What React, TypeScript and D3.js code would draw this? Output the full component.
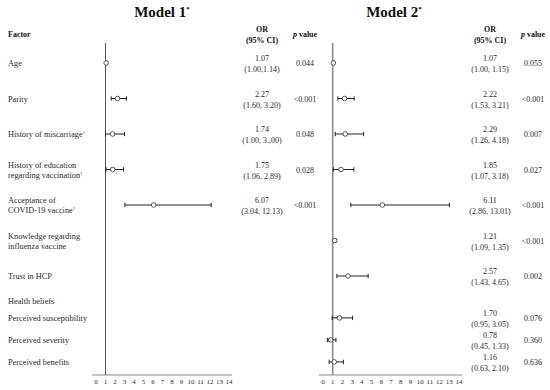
import React from "react";
import * as d3 from "d3";

// ---------- data ----------
const factorLabels: string[][] = [
  ["Age"],
  ["Parity"],
  ["History of miscarriage†"],
  ["History of education", "regarding vaccination†"],
  ["Acceptance of", "COVID-19 vaccine†"],
  ["Knowledge regarding", "influenza vaccine"],
  ["Trust in HCP"],
  ["Health beliefs"],
  ["Perceived susceptibility"],
  ["Perceived severity"],
  ["Perceived benefits"],
];

const m1OR: (number | null)[] = [1.07, 2.27, 1.74, 1.75, 6.07, null, null, null, null, null, null];
const m1Lo: (number | null)[] = [1.0, 1.6, 1.0, 1.06, 3.04, null, null, null, null, null, null];
const m1Hi: (number | null)[] = [1.14, 3.2, 3.0, 2.89, 12.13, null, null, null, null, null, null];
const m1ORText: string[] = ["1.07", "2.27", "1.74", "1.75", "6.07", "", "", "", "", "", ""];
const m1CIText: string[] = ["(1.00,1.14)", "(1.60, 3.20)", "(1.00, 3.,00)", "(1.06, 2.89)", "(3.04, 12.13)", "", "", "", "", "", ""];
const m1P: string[] = ["0.044", "<0.001", "0.048", "0.028", "<0.001", "", "", "", "", "", ""];

const m2OR: (number | null)[] = [1.07, 2.22, 2.29, 1.85, 6.11, 1.21, 2.57, null, 1.7, 0.78, 1.16];
const m2Lo: (number | null)[] = [1.0, 1.53, 1.26, 1.07, 2.86, 1.09, 1.43, null, 0.95, 0.45, 0.63];
const m2Hi: (number | null)[] = [1.15, 3.21, 4.18, 3.18, 13.01, 1.35, 4.65, null, 3.05, 1.33, 2.1];
const m2ORText: string[] = ["1.07", "2.22", "2.29", "1.85", "6.11", "1.21", "2.57", "", "1.70", "0.78", "1.16"];
const m2CIText: string[] = ["(1.00, 1.15)", "(1.53, 3.21)", "(1.26, 4.18)", "(1.07, 3.18)", "(2.86, 13.01)", "(1.09, 1.35)", "(1.43, 4.65)", "", "(0.95, 3.05)", "(0.45, 1.33)", "(0.63, 2.10)"];
const m2P: string[] = ["0.055", "<0.001", "0.007", "0.027", "<0.001", "<0.001", "0.002", "", "0.076", "0.360", "0.636"];

const axisTicks: number[] = d3.range(0, 15);

// ---------- layout ----------
const W = 550;
const H = 390;
const FONT = "'Liberation Serif', 'Times New Roman', serif";
const rowSlots = [0, 1, 2, 3, 4, 5, 6, 6.7, 7.18, 7.8, 8.42];
const yRow = d3.scaleLinear().domain([0, 1]).range([63, 98.5]);
const axisY = 375;
const TXT = "#2a2a2a";

const x1 = d3.scaleLinear().domain([0, 14]).range([96, 229]);
const x2 = d3.scaleLinear().domain([0, 14]).range([323, 459]);

type Panel = {
  x: d3.ScaleLinear<number, number>;
  or: (number | null)[];
  lo: (number | null)[];
  hi: (number | null)[];
  orText: string[];
  ciText: string[];
  p: string[];
  orCol: number;
  pCol: number;
  refColor: string;
  refWidth: number;
  title: string;
  titleX: number;
};

const panels: Panel[] = [
  { x: x1, or: m1OR, lo: m1Lo, hi: m1Hi, orText: m1ORText, ciText: m1CIText, p: m1P, orCol: 262, pCol: 305, refColor: "#555", refWidth: 1, title: "Model 1", titleX: 162 },
  { x: x2, or: m2OR, lo: m2Lo, hi: m2Hi, orText: m2ORText, ciText: m2CIText, p: m2P, orCol: 490, pCol: 533, refColor: "#8a8a8a", refWidth: 1.6, title: "Model 2", titleX: 394 },
];

function Label({ s }: { s: string }) {
  if (s.endsWith("†")) {
    return (
      <>
        {s.slice(0, -1)}
        <tspan fontSize={5} dy={-3}>†</tspan>
      </>
    );
  }
  return <>{s}</>;
}

function PanelView({ pn }: { pn: Panel }) {
  const [r0, r1] = pn.x.range();
  return (
    <g>
      <text x={pn.titleX} y={17} textAnchor="middle" fontSize={15} fontWeight="bold" fontFamily={FONT} fill="#111">
        {pn.title}
        <tspan fontSize={7} dy={-6}>*</tspan>
      </text>
      <text x={pn.orCol} y={32} textAnchor="middle" fontSize={8} fontWeight="bold" fontFamily={FONT} fill="#111">OR</text>
      <text x={pn.orCol} y={43} textAnchor="middle" fontSize={8} fontWeight="bold" fontFamily={FONT} fill="#111">(95% CI)</text>
      <text x={pn.pCol} y={37} textAnchor="middle" fontSize={8} fontWeight="bold" fontFamily={FONT} fill="#111">
        <tspan fontStyle="italic">p</tspan> value
      </text>
      {/* axis */}
      <line x1={r0 - 4} x2={r1 + 3} y1={axisY} y2={axisY} stroke="#888" strokeWidth={1} />
      {axisTicks.map((t) => (
        <text key={t} x={pn.x(t)} y={axisY + 9} textAnchor="middle" fontSize={7} fontFamily={FONT} fill={TXT}>
          {t}
        </text>
      ))}
      {/* reference line */}
      <line x1={pn.x(1)} x2={pn.x(1)} y1={43} y2={axisY} stroke={pn.refColor} strokeWidth={pn.refWidth} />
      {/* estimates */}
      {pn.or.map((v, i) => {
        if (v === null) return null;
        const y = yRow(rowSlots[i]);
        const lo = pn.lo[i] as number;
        const hi = pn.hi[i] as number;
        return (
          <g key={i}>
            <line x1={pn.x(lo)} x2={pn.x(hi)} y1={y} y2={y} stroke="#222" strokeWidth={1} />
            <line x1={pn.x(lo)} x2={pn.x(lo)} y1={y - 2.2} y2={y + 2.2} stroke="#222" strokeWidth={1} />
            <line x1={pn.x(hi)} x2={pn.x(hi)} y1={y - 2.2} y2={y + 2.2} stroke="#222" strokeWidth={1} />
            <circle cx={pn.x(v)} cy={y} r={2.3} fill="#fff" stroke="#333" strokeWidth={0.8} />
          </g>
        );
      })}
      {/* text columns */}
      {pn.orText.map((t, i) => {
        if (!t) return null;
        const y = yRow(rowSlots[i]);
        return (
          <g key={i} fontFamily={FONT} fontSize={8} fill={TXT}>
            <text x={pn.orCol} y={y - 2} textAnchor="middle">{t}</text>
            <text x={pn.orCol} y={y + 9} textAnchor="middle">{pn.ciText[i]}</text>
            <text x={pn.pCol} y={y + 3} textAnchor="middle">{pn.p[i]}</text>
          </g>
        );
      })}
    </g>
  );
}

export default function App() {
  return (
    <svg width={W} height={H} style={{ display: "block", position: "absolute", left: 0, top: 0, background: "#fff", opacity: 0.999 }}>
      <rect width={W} height={H} fill="#fff" />
      <text x={8} y={37} fontSize={8} fontWeight="bold" fontFamily={FONT} fill="#111">Factor</text>
      {factorLabels.map((lines, i) => {
        const y = yRow(rowSlots[i]);
        return lines.length === 1 ? (
          <text key={i} x={8} y={y + 3} fontSize={8.3} fontFamily={FONT} fill={TXT}><Label s={lines[0]} /></text>
        ) : (
          <g key={i} fontSize={8.3} fontFamily={FONT} fill={TXT}>
            <text x={8} y={y - 2}><Label s={lines[0]} /></text>
            <text x={8} y={y + 8}><Label s={lines[1]} /></text>
          </g>
        );
      })}
      {panels.map((pn, k) => (
        <PanelView key={k} pn={pn} />
      ))}
    </svg>
  );
}
